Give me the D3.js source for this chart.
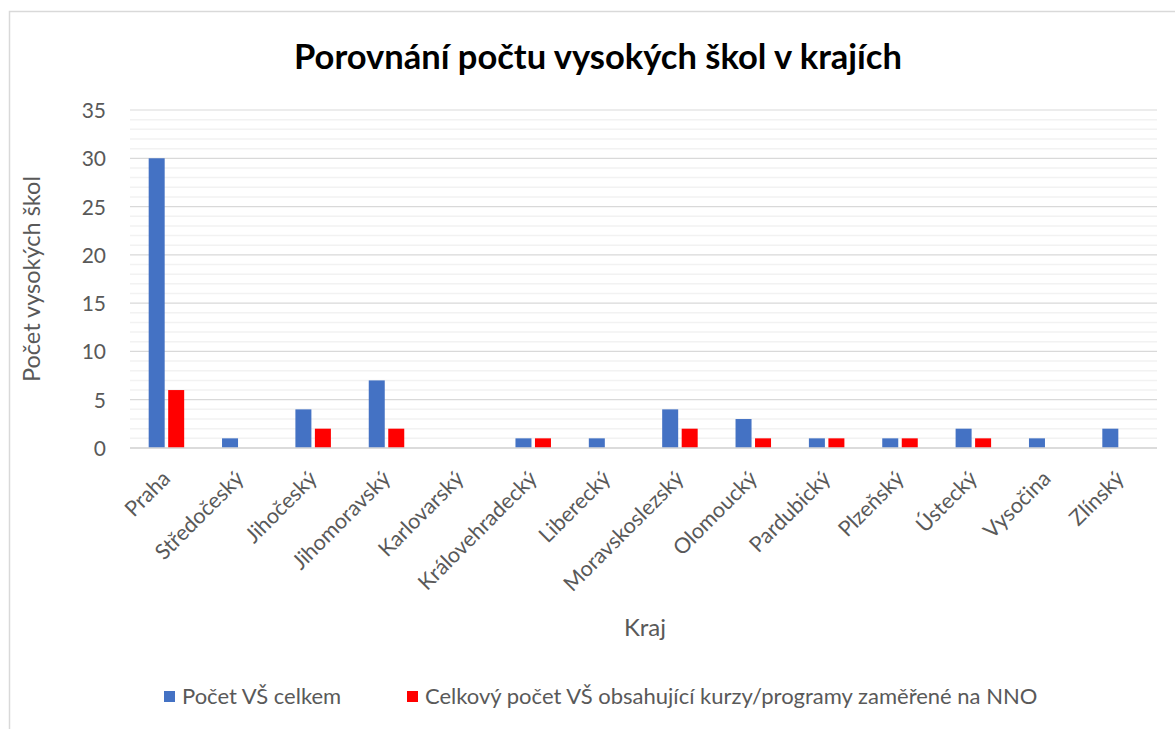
<!DOCTYPE html>
<html><head><meta charset="utf-8">
<script src="https://cdn.jsdelivr.net/npm/d3@7/dist/d3.min.js"></script>
<style>body{margin:0;background:#fff;} text{font-family:Lato,"Open Sans",sans-serif;}</style>
</head><body>
<svg id="c" width="1175" height="729"></svg>
<script>
const categories = ["Praha","Středočeský","Jihočeský","Jihomoravský","Karlovarský","Královehradecký","Liberecký","Moravskoslezský","Olomoucký","Pardubický","Plzeňský","Ústecký","Vysočina","Zlínský"];
const totalSchools = [30,1,4,7,0,1,1,4,3,1,1,2,1,2];
const nnoSchools = [6,0,2,2,0,1,0,2,1,1,1,1,0,0];
const seriesNames = ["Počet VŠ celkem","Celkový počet VŠ obsahující kurzy/programy zaměřené na NNO"];
const yTicks = [0,5,10,15,20,25,30,35];
const colors = ["#4472C4","#FF0000"];

(function(){
const svg = d3.select("#c");
svg.append("rect").attr("x",0).attr("y",0).attr("width",1175).attr("height",729).attr("fill","#fff");
svg.append("rect").attr("x",9.5).attr("y",11.5).attr("width",1200).attr("height",800)
  .attr("fill","#fff").attr("stroke","#d9d9d9").attr("stroke-width",1.5);

const pLeft=130,pRight=1157,pTop=110,pBottom=448;
const x = d3.scaleBand().domain(categories).range([pLeft,pRight]);
const y = d3.scaleLinear().domain([0,35]).range([pBottom,pTop]);

const minor = d3.range(0,36,1).filter(v=>v%5!==0);
svg.append("g").selectAll("line").data(minor).join("line")
  .attr("x1",pLeft).attr("x2",pRight).attr("y1",d=>y(d)).attr("y2",d=>y(d))
  .attr("stroke","#f2f2f2").attr("stroke-width",1.5);
svg.append("g").selectAll("line").data(yTicks).join("line")
  .attr("x1",pLeft).attr("x2",pRight).attr("y1",d=>y(d)).attr("y2",d=>y(d))
  .attr("stroke","#d9d9d9").attr("stroke-width",d=>d===0?1.5:1.2);

const yAxis = d3.axisLeft(y).tickValues(yTicks).tickSize(0).tickPadding(0);
const yg = svg.append("g").attr("transform",`translate(${106},0)`).call(yAxis);
yg.select(".domain").remove();
yg.selectAll("text").attr("font-size",21).attr("fill","#595959").style("font-family","Lato, 'Open Sans', sans-serif").attr("dy","0.36em");

const bw=16;
const g = svg.append("g");
categories.forEach((c,i)=>{
  const cx = x(c)+x.bandwidth()/2;
  g.append("rect").attr("x",cx-18).attr("width",bw)
    .attr("y",y(totalSchools[i])).attr("height",y(0)-y(totalSchools[i])).attr("fill",colors[0]);
  g.append("rect").attr("x",cx+1.5).attr("width",bw)
    .attr("y",y(nnoSchools[i])).attr("height",y(0)-y(nnoSchools[i])).attr("fill",colors[1]);
});
svg.append("line").attr("x1",pLeft).attr("x2",pRight).attr("y1",y(0)).attr("y2",y(0)).attr("stroke","#d9d9d9").attr("stroke-width",1.5);

const xAxis = d3.axisBottom(x).tickSize(0).tickPadding(0);
const xg = svg.append("g").attr("transform",`translate(0,${pBottom})`).call(xAxis);
xg.select(".domain").remove();
xg.selectAll("text").attr("font-size",21.5).attr("fill","#595959")
  .style("font-family","Lato, 'Open Sans', sans-serif")
  .attr("text-anchor","end").attr("dy",null).attr("y",0)
  .attr("transform","translate(5,32) rotate(-45)");

svg.append("text").attr("x",598).attr("y",69).attr("text-anchor","middle")
  .attr("font-size",34.5).attr("font-weight","bold").attr("fill","#000")
  .text("Porovnání počtu vysokých škol v krajích");
svg.append("text").attr("transform","translate(40,279) rotate(-90)").attr("text-anchor","middle")
  .attr("font-size",23.5).attr("fill","#595959").text("Počet vysokých škol");
svg.append("text").attr("x",645).attr("y",636).attr("text-anchor","middle")
  .attr("font-size",24).attr("fill","#595959").text("Kraj");

const legX=[164,407];
seriesNames.forEach((n,i)=>{
  svg.append("rect").attr("x",legX[i]).attr("y",691).attr("width",11).attr("height",11).attr("fill",colors[i]);
  svg.append("text").attr("x",legX[i]+18).attr("y",704).attr("font-size",22).attr("fill","#595959").text(n);
});
})();
</script>
</body></html>
